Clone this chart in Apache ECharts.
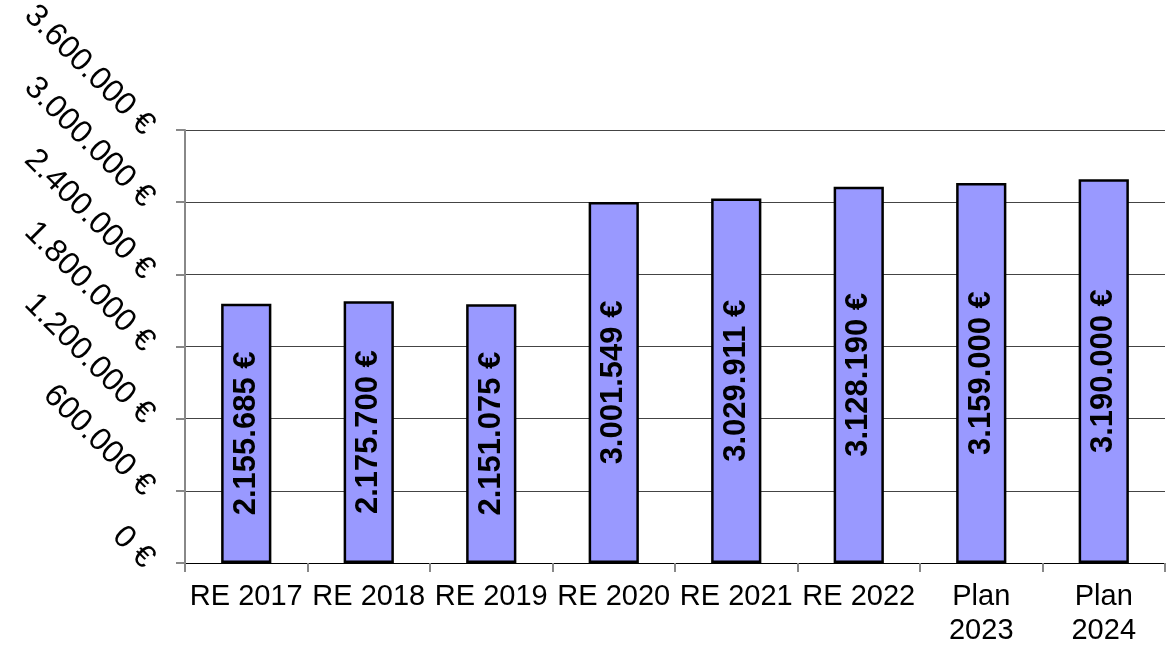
<!DOCTYPE html>
<html>
<head>
<meta charset="utf-8">
<title>Budget</title>
<script src="https://cdn.jsdelivr.net/npm/echarts@6/dist/echarts.min.js"></script>
<style>
  html, body { margin: 0; padding: 0; background: #fff; }
  #chart { width: 1168px; height: 648px; }
</style>
</head>
<body>
<div id="chart"></div>
<script>
// categories and values
const categories = ['RE 2017', 'RE 2018', 'RE 2019', 'RE 2020', 'RE 2021', 'RE 2022', 'Plan\n2023', 'Plan\n2024']
const values = [2155685, 2175700, 2151075, 3001549, 3029911, 3128190, 3159000, 3190000]
const yTicks = [0, 600000, 1200000, 1800000, 2400000, 3000000, 3600000]

// 1234567 -> "1.234.567 €"
function euro(v) {
  return String(Math.round(v)).replace(/\B(?=(\d{3})+(?!\d))/g, '.') + ' €'
}

const chart = echarts.init(document.getElementById('chart'))

chart.setOption({
  animation: false,
  textStyle: { fontFamily: 'Liberation Sans, Arial, sans-serif' },
  grid: { left: 185, right: 3, top: 130, bottom: 85, outerBoundsMode: 'none' },
  xAxis: {
    type: 'category',
    data: categories,
    axisLine: { lineStyle: { color: '#000', width: 1 } },
    axisTick: { show: true, length: 9, lineStyle: { color: '#888', width: 2 } },
    axisLabel: {
      interval: 0,
      margin: 17,
      fontSize: 29,
      lineHeight: 34,
      color: '#000'
    },
    splitLine: { show: false }
  },
  yAxis: {
    type: 'value',
    min: yTicks[0],
    max: yTicks[yTicks.length - 1],
    interval: yTicks[1] - yTicks[0],
    axisLine: { show: true, lineStyle: { color: '#888', width: 2 } },
    axisTick: { show: true, length: 9, lineStyle: { color: '#888', width: 2 } },
    axisLabel: {
      rotate: -45,
      margin: 36,
      fontSize: 32,
      color: '#000',
      formatter: euro
    },
    splitLine: { lineStyle: { color: '#444', width: 1 } }
  },
  series: [{
    type: 'bar',
    data: values,
    barWidth: '41%',
    itemStyle: {
      color: '#9999FF',
      borderColor: '#000',
      borderWidth: 2.5
    },
    label: {
      show: true,
      position: 'inside',
      rotate: 90,
      fontSize: 31,
      fontWeight: 'bold',
      color: '#000',
      formatter: p => euro(p.value)
    }
  }]
})
</script>
</body>
</html>
